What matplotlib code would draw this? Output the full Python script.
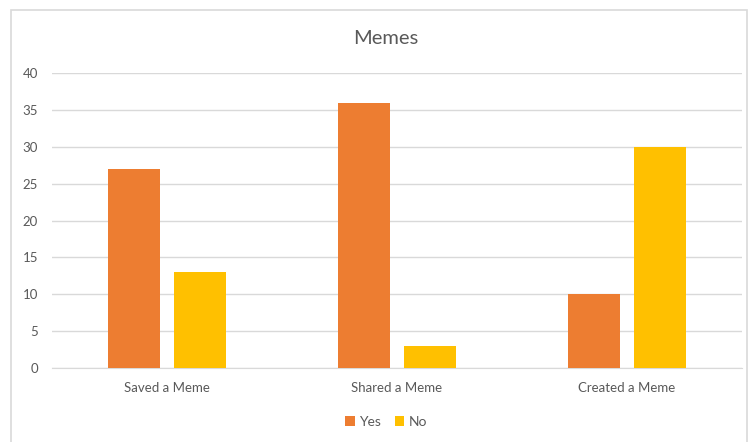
import matplotlib
matplotlib.use('Agg')
import matplotlib.pyplot as plt
from matplotlib.patches import Rectangle
import numpy as np

plt.rcParams['font.family'] = ['Lato', 'DejaVu Sans']

# data
categories = ['Saved a Meme', 'Shared a Meme', 'Created a Meme']
yes_vals = [27, 36, 10]
no_vals = [13, 3, 30]

grey = '#595959'
fig = plt.figure(figsize=(7.49, 4.42), dpi=100)
ax = fig.add_axes([52/749, 1 - 368/442, 690/749, 295/442])

x = np.arange(len(categories))
w = 0.226
off = 0.143
ax.bar(x - off, yes_vals, w, color='#ED7D31', label='Yes', zorder=3)
ax.bar(x + off, no_vals, w, color='#FFC000', label='No', zorder=3)

ax.set_xlim(-0.5, 2.5)
ax.set_ylim(0, 40)
ax.set_yticks(range(0, 41, 5))
ax.set_xticks(x)
ax.set_xticklabels(categories)
ax.tick_params(axis='both', length=0, labelsize=9.5, colors=grey)
ax.tick_params(axis='y', pad=10)
ax.tick_params(axis='x', pad=10)
ax.grid(axis='y', color='#D9D9D9', linewidth=1, zorder=0)
for s in ['top', 'right', 'left']:
    ax.spines[s].set_visible(False)
ax.spines['bottom'].set_color('#D9D9D9')

fig.text(386/749, 1 - 39/442, 'Memes', ha='center', va='center', fontsize=14.5, color=grey)

leg = fig.legend(loc='center', bbox_to_anchor=(386/749, 1 - 422/442), ncol=2, frameon=False,
                 handlelength=0.7, handleheight=0.7, handletextpad=0.3, columnspacing=1.0,
                 fontsize=10)
for t in leg.get_texts():
    t.set_color(grey)

# chart border
fig.patches.append(Rectangle((11/749, -0.05), 736/749, 1.05 - 10/442, transform=fig.transFigure,
                             fill=False, edgecolor='#D9D9D9', linewidth=1.2))

fig.savefig('out.png', dpi=100)
